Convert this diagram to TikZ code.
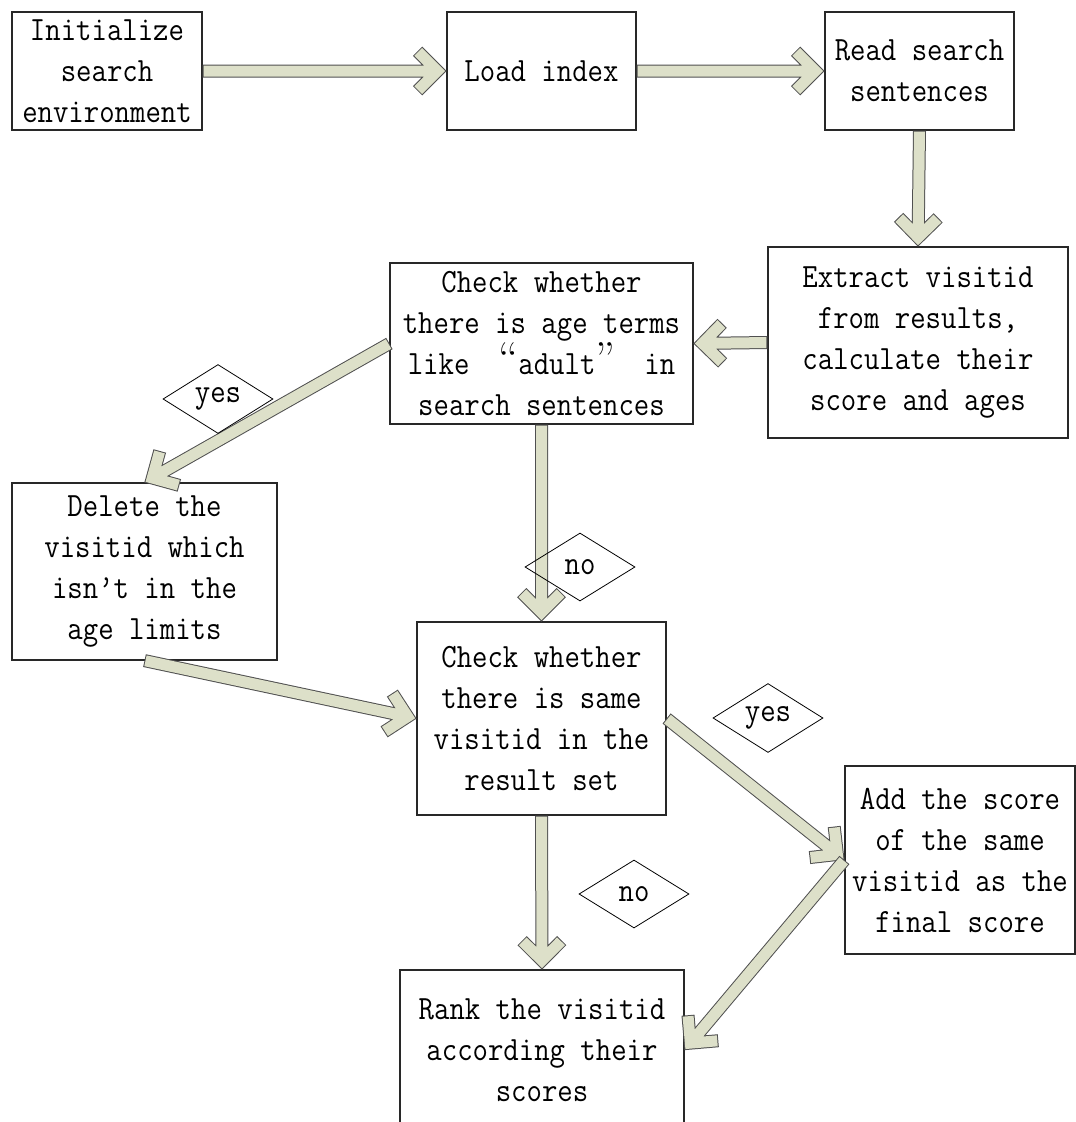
\documentclass[tikz,border=0pt]{standalone}
\usepackage{fontspec}
\setmonofont{Latin Modern Mono}[FakeStretch=0.88]
\usetikzlibrary{calc,shapes.geometric}
\definecolor{arrowfill}{RGB}{221,224,201}
\definecolor{arrowedge}{RGB}{80,80,80}
\definecolor{boxline}{RGB}{40,40,40}
\newcommand\flowarrow[2]{%
  \path (#1) coordinate (fa-s) (#2) coordinate (fa-e);
  \path ($(fa-e)!9pt!(fa-s)$) coordinate (fa-t);
  \path ($(fa-t)!28pt!45:(fa-s)$) coordinate (fa-b1)
        ($(fa-t)!28pt!-45:(fa-s)$) coordinate (fa-b2)
        ($(fa-t)!27pt!45:(fa-s)$) coordinate (fa-c1)
        ($(fa-t)!27pt!-45:(fa-s)$) coordinate (fa-c2)
        ($(fa-s)!1pt!(fa-t)$) coordinate (fa-s2);
  \draw[arrowouter] (fa-s) -- (fa-t) (fa-b1) -- (fa-t) -- (fa-b2);
  \draw[arrowinner] (fa-s2) -- (fa-t) (fa-c1) -- (fa-t) -- (fa-c2);
}
\newcommand\cq[1]{{\rmfamily\fontsize{46}{41}\selectfont #1}}
\tikzset{
  arrowouter/.style={draw=arrowedge, line width=13pt, line cap=butt, line join=miter},
  arrowinner/.style={draw=arrowfill, line width=11pt, line cap=butt, line join=miter},
  flowbox/.style={draw=boxline, line width=1.2pt, fill=white, inner sep=0pt,
    align=center, font=\ttfamily\fontsize{34}{41}\selectfont},
  choice/.style={draw=black, line width=0.8pt, shape=diamond, inner sep=0pt,
    minimum width=110pt, minimum height=68pt, font=\ttfamily\fontsize{34}{36}\selectfont}
}
\begin{document}
\begin{tikzpicture}[x=1pt,y=-1pt]
\useasboundingbox (0,0) rectangle (1076,1122);
\clip (0,0) rectangle (1076,1122);
\fill[white] (0,0) rectangle (1076,1122);

\node[flowbox, minimum width=190pt, minimum height=118pt] (init) at (107,71)
  {Initialize\\search\\environment};
\node[flowbox, minimum width=189pt, minimum height=118pt] (load) at (541.5,71)
  {Load index};
\node[flowbox, minimum width=189pt, minimum height=118pt] (read) at (919.5,71)
  {Read search\\sentences};
\node[flowbox, minimum width=300pt, minimum height=191pt] (extract) at (918,342.5)
  {Extract visitid\\from results,\\calculate their\\score and ages};
\node[flowbox, minimum width=303pt, minimum height=161pt] (age) at (541.5,343.5)
  {Check whether\\there is age terms\\like~\hspace{0.4em}\cq{“}adult\cq{”}\hspace{0.4em}~in\\search sentences};
\node[flowbox, minimum width=265pt, minimum height=177pt] (delete) at (144.5,571.5)
  {Delete the\\visitid which\\isn’t in the\\age limits};
\node[flowbox, minimum width=249pt, minimum height=193pt] (same) at (541.5,718.5)
  {Check whether\\there is same\\visitid in the\\result set};
\node[flowbox, minimum width=230pt, minimum height=188pt] (add) at (960,860)
  {Add the score\\of the same\\visitid as the\\final score};
\node[flowbox, minimum width=284pt, minimum height=160pt] (rank) at (542,1050)
  {Rank the visitid\\according their\\scores};

\flowarrow{init.east}{load.west}
\flowarrow{load.east}{read.west}
\flowarrow{read.south}{extract.north}
\flowarrow{extract.west}{age.east}
\flowarrow{age.west}{delete.north}
\flowarrow{age.south}{same.north}
\flowarrow{delete.south}{same.west}
\flowarrow{same.east}{add.west}
\flowarrow{add.west}{rank.east}
\flowarrow{same.south}{rank.north}

\node[choice] (yes1) at (218,399) {yes};
\node[choice] (no1) at (580,567) {no};
\node[choice] (yes2) at (768,718) {yes};
\node[choice] (no2) at (634,894) {no};
\end{tikzpicture}
\end{document}
